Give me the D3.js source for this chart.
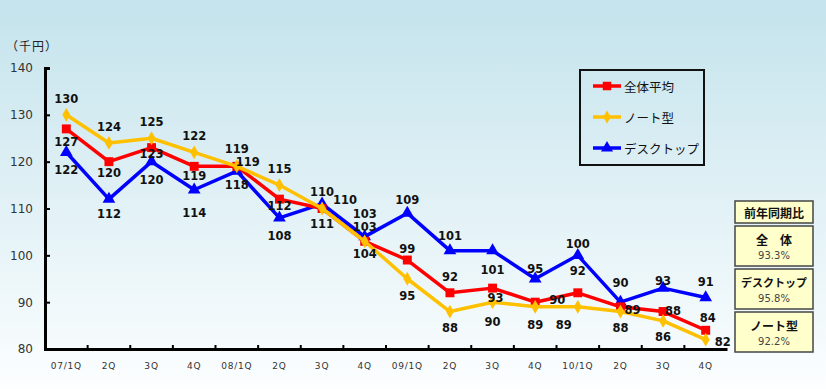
<!DOCTYPE html>
<html>
<head>
<meta charset="utf-8">
<script src="https://cdn.jsdelivr.net/npm/d3@7"></script>
<style>
  body { margin: 0; }
  svg { display: block; }
</style>
</head>
<body>
<div id="chart"></div>
<script>
const quarters = ["07/1Q", "2Q", "3Q", "4Q", "08/1Q", "2Q", "3Q", "4Q",
  "09/1Q", "2Q", "3Q", "4Q", "10/1Q", "2Q", "3Q", "4Q"];
const seriesNames = ["全体平均", "ノート型", "デスクトップ"];
const allAvg = [127, 120, 123, 119, 119, 112, 110, 103, 99, 92, 93, 90, 92, 89, 88, 84];
const notebook = [130, 124, 125, 122, 119, 115, 110, 103, 95, 88, 90, 89, 89, 88, 86, 82];
const desktop = [122, 112, 120, 114, 118, 108, 111, 104, 109, 101, 101, 95, 100, 90, 93, 91];
const yTicks = [80, 90, 100, 110, 120, 130, 140];
const yoyLabels = ["全　体", "デスクトップ", "ノート型"];
const yoyValues = [93.3, 95.8, 92.2];

// label offsets (dx, dy) per point, picked by eye so labels don't collide
const labelOffsets = {
  allAvg: [[0,13],[0,11],[0,6],[0,10],[11,-4],[0,7],[23,-9],[0,-14],[0,-11],[0,-16],[3,10],[22,-2],[0,-22],[12,3],[10,-1],[2,-12]],
  notebook: [[0,-16],[0,-16],[0,-16],[0,-16],[0,-17],[0,-16],[0,-17],[0,-27],[0,17],[0,16],[0,20],[0,18],[-14,18],[0,16],[0,16],[17,2]],
  desktop: [[0,18],[0,15],[0,18],[0,23],[0,14],[0,18],[0,20],[0,17],[0,-13],[0,-15],[0,19],[0,-10],[0,-11],[0,-19],[0,-7],[0,-15]]
};

const W = 826, H = 389;
const plot = { left: 45, right: 727, top: 68, bottom: 349 };

const svg = d3.select("#chart").append("svg")
  .attr("width", W).attr("height", H);

const defs = svg.append("defs");
const grad = defs.append("linearGradient")
  .attr("id", "bg").attr("x1", 0).attr("y1", 0).attr("x2", 0).attr("y2", 1);
grad.append("stop").attr("offset", "0%").attr("stop-color", "#c4e3ec");
grad.append("stop").attr("offset", "100%").attr("stop-color", "#fcfeff");
svg.append("rect").attr("width", W).attr("height", H).attr("fill", "url(#bg)");

const x = d3.scaleBand().domain(d3.range(quarters.length))
  .range([plot.left, plot.right]).padding(0);
const y = d3.scaleLinear().domain([80, 140]).range([plot.bottom, plot.top]);
const cx = i => x(i) + x.bandwidth() / 2;

// axes
const yAxis = d3.axisLeft(y).tickValues(yTicks).tickSize(-5).tickPadding(12);
const gy = svg.append("g").attr("transform", `translate(${plot.left},0)`).call(yAxis);
gy.select(".domain").attr("stroke", "#000").attr("stroke-width", 3);
gy.selectAll(".tick line").attr("stroke", "#000").attr("stroke-width", 2);
gy.selectAll(".tick text")
  .attr("font-family", "'DejaVu Sans', sans-serif")
  .attr("font-size", 12).attr("fill", "#333");

const xAxis = d3.axisBottom(x).tickFormat(i => quarters[i]).tickSize(0).tickPadding(14);
const gx = svg.append("g").attr("transform", `translate(0,${plot.bottom})`).call(xAxis);
gx.select(".domain").attr("stroke", "#000").attr("stroke-width", 3);
gx.selectAll(".tick text")
  .attr("font-family", "'DejaVu Sans', sans-serif")
  .attr("font-size", 9).attr("fill", "#333").attr("letter-spacing", 0.8);
// small boundary ticks between quarters
gx.selectAll(".qtick")
  .data(d3.range(1, quarters.length))
  .join("line")
  .attr("x1", i => x(i)).attr("x2", i => x(i))
  .attr("y1", 0).attr("y2", -4)
  .attr("stroke", "#000").attr("stroke-width", 2);

svg.append("text")
  .attr("x", 6).attr("y", 51)
  .attr("font-family", "'Noto Sans CJK JP', sans-serif")
  .attr("font-size", 12).attr("fill", "#222")
  .attr("letter-spacing", 1)
  .text("（千円）");

const series = [
  { key: "desktop", name: seriesNames[2], values: desktop, color: "#0000ff", marker: d3.symbolTriangle, size: 70 },
  { key: "allAvg", name: seriesNames[0], values: allAvg, color: "#ff0000", marker: d3.symbolSquare, size: 80 },
  { key: "notebook", name: seriesNames[1], values: notebook, color: "#ffc000", marker: d3.symbolDiamond, size: 55 }
];

const line = d3.line().x((d, i) => cx(i)).y(d => y(d));

series.forEach(s => {
  const g = svg.append("g");
  g.append("path")
    .attr("d", line(s.values))
    .attr("fill", "none")
    .attr("stroke", s.color)
    .attr("stroke-width", 3.5)
    .attr("stroke-linejoin", "round");
  g.selectAll("path.mk")
    .data(s.values)
    .join("path")
    .attr("class", "mk")
    .attr("transform", (d, i) => `translate(${cx(i)},${y(d)})`)
    .attr("d", d3.symbol().type(s.marker).size(s.size))
    .attr("fill", s.color);
});

// data labels
series.forEach(s => {
  svg.append("g").selectAll("text")
    .data(s.values)
    .join("text")
    .attr("x", (d, i) => cx(i) + labelOffsets[s.key][i][0])
    .attr("y", (d, i) => y(d) + labelOffsets[s.key][i][1])
    .attr("text-anchor", "middle")
    .attr("dominant-baseline", "central")
    .attr("font-family", "'DejaVu Sans', sans-serif")
    .attr("font-weight", "bold")
    .attr("font-size", 11.5)
    .attr("fill", "#111")
    .text(d => d);
});

// legend
const legend = svg.append("g").attr("transform", "translate(580,70)");
legend.append("rect")
  .attr("width", 124).attr("height", 95)
  .attr("fill", "none").attr("stroke", "#111").attr("stroke-width", 2);
const legendOrder = [series[1], series[2], series[0]];
legendOrder.forEach((s, i) => {
  const ly = 16 + i * 31;
  legend.append("line")
    .attr("x1", 13).attr("x2", 41).attr("y1", ly).attr("y2", ly)
    .attr("stroke", s.color).attr("stroke-width", 3.5);
  legend.append("path")
    .attr("transform", `translate(27,${ly})`)
    .attr("d", d3.symbol().type(s.marker).size(s.size * 0.9))
    .attr("fill", s.color);
  legend.append("text")
    .attr("x", 44).attr("y", ly)
    .attr("dominant-baseline", "central")
    .attr("font-family", "'Noto Sans CJK JP', sans-serif")
    .attr("font-size", 12.5).attr("fill", "#111")
    .text(s.name);
});

// year-on-year boxes
const box = svg.append("g").attr("transform", "translate(735,201)");
box.append("rect")
  .attr("width", 78).attr("height", 22)
  .attr("fill", "#ffffcc").attr("stroke", "#444").attr("stroke-width", 1.5);
box.append("text")
  .attr("x", 39).attr("y", 11.5)
  .attr("text-anchor", "middle").attr("dominant-baseline", "central")
  .attr("font-family", "'Noto Sans CJK JP', sans-serif")
  .attr("font-weight", "bold").attr("font-size", 12).attr("fill", "#111")
  .text("前年同期比");
yoyLabels.forEach((lab, i) => {
  const by = 25 + i * 43;
  const g = box.append("g").attr("transform", `translate(0,${by})`);
  g.append("rect")
    .attr("width", 78).attr("height", 40)
    .attr("fill", "#ffffcc").attr("stroke", "#444").attr("stroke-width", 1.5);
  g.append("text")
    .attr("x", 39).attr("y", 13)
    .attr("text-anchor", "middle").attr("dominant-baseline", "central")
    .attr("font-family", "'Noto Sans CJK JP', sans-serif")
    .attr("font-weight", "bold").attr("font-size", i === 1 ? 11 : 12).attr("fill", "#111")
    .text(lab);
  g.append("text")
    .attr("x", 39).attr("y", 29)
    .attr("text-anchor", "middle").attr("dominant-baseline", "central")
    .attr("font-family", "'DejaVu Sans', sans-serif")
    .attr("font-size", 10).attr("fill", "#444")
    .text(yoyValues[i].toFixed(1) + "%");
});
</script>
</body>
</html>
